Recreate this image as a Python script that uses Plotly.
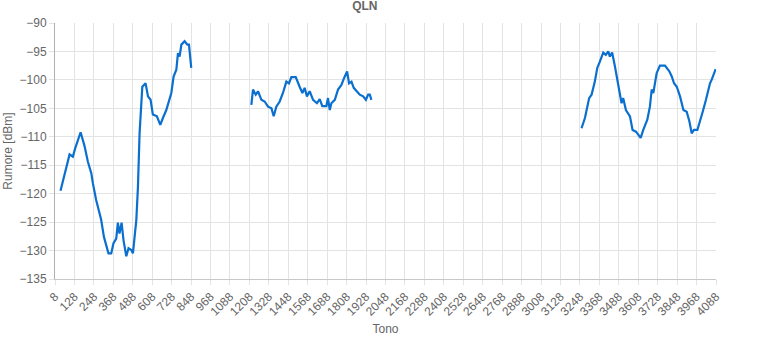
import plotly.graph_objects as go

seg1_tone = [42, 77, 98, 118, 133, 166, 190, 211, 232, 242, 262, 293, 310, 338, 355, 369, 386, 396, 406, 419, 431, 448, 462, 479, 489, 510, 520, 530, 547, 567, 582, 598, 612, 637, 658, 674, 695, 726, 740, 757, 767, 777, 788, 808, 825, 835, 849]
seg1_db = [-119.5, -115.7, -113.1, -113.5, -112, -109.2, -111.6, -114.4, -116.4, -118.2, -121.1, -124.6, -127.6, -130.5, -130.5, -128.7, -127.9, -125.1, -127, -125.1, -128.2, -131, -129.6, -129.9, -130.5, -124.6, -118.8, -109.4, -101.2, -100.6, -102.9, -103.5, -106.1, -106.4, -107.9, -106.7, -105.3, -102.3, -99.4, -98.2, -95.3, -95.9, -93.8, -93.2, -93.8, -93.8, -97.9]

seg2_tone = [1220, 1230, 1247, 1261, 1282, 1302, 1323, 1344, 1358, 1374, 1395, 1415, 1436, 1452, 1467, 1494, 1518, 1535, 1549, 1563, 1580, 1601, 1625, 1642, 1658, 1683, 1693, 1704, 1714, 1735, 1755, 1776, 1792, 1811, 1823, 1838, 1852, 1869, 1889, 1910, 1927, 1941, 1951, 1961]
seg2_db = [-104.4, -101.7, -102.6, -102, -103.5, -103.8, -104.7, -105, -106.4, -104.7, -103.8, -102.3, -100.3, -100.6, -99.5, -99.5, -101.2, -102.3, -101.4, -102.9, -102, -103.5, -104.1, -103.4, -104.6, -104.6, -103.2, -105.3, -104.1, -103.5, -101.7, -100.9, -99.7, -98.5, -100.6, -100.3, -101.4, -102, -102.6, -102.9, -103.5, -102.6, -102.6, -103.5]

seg3_tone = [3258, 3279, 3305, 3320, 3340, 3355, 3371, 3392, 3408, 3423, 3433, 3447, 3464, 3485, 3505, 3515, 3532, 3557, 3573, 3594, 3608, 3623, 3639, 3664, 3680, 3691, 3701, 3722, 3742, 3773, 3800, 3815, 3829, 3846, 3866, 3887, 3907, 3924, 3938, 3952, 3973, 3989, 4006, 4026, 4040, 4051, 4061, 4076, 4086]
seg3_db = [-108.5, -106.7, -103.2, -102.6, -100.3, -97.9, -96.8, -95.2, -95.6, -95, -95.9, -95.2, -97.6, -101.2, -104.1, -103.2, -105.3, -106.4, -108.8, -109.1, -109.7, -110.2, -108.8, -107, -104.7, -101.7, -102.3, -98.8, -97.5, -97.5, -98.5, -99.4, -100.6, -101.2, -102.9, -105.3, -105.6, -107.3, -109.4, -108.8, -108.8, -107, -105.6, -103.5, -101.7, -100.6, -100, -98.7, -98.1]

x_ticks = list(range(8, 4089, 120))
y_ticks = list(range(-135, -89, 5))

x = seg1_tone + [None] + seg2_tone + [None] + seg3_tone
y = seg1_db + [None] + seg2_db + [None] + seg3_db

font = "Liberation Sans, Arial, sans-serif"
fig = go.Figure()
fig.add_trace(go.Scatter(x=x, y=y, mode="lines", connectgaps=False,
                         line=dict(color="#0a6fce", width=2.2), hoverinfo="skip"))

fig.update_layout(
    width=757, height=341,
    margin=dict(l=55, r=41, t=23, b=62),
    paper_bgcolor="white", plot_bgcolor="white",
    showlegend=False,
    font=dict(family=font, size=12, color="#666666"),
    title=dict(text="<b>QLN</b>", x=0.482, xanchor="center", y=0.995, yanchor="top",
               font=dict(family=font, size=12, color="#666666")),
    xaxis=dict(range=[8, 4088], tickmode="array", tickvals=x_ticks,
               ticktext=[str(v) for v in x_ticks], tickangle=-45,
               showgrid=True, gridcolor="#e3e3e3", gridwidth=1,
               ticks="outside", ticklen=5, tickcolor="#e3e3e3",
               showline=True, linecolor="#c8c8c8", zeroline=False,
               automargin=False,
               tickfont=dict(size=12, color="#666666"),
               title=dict(text="Tono", font=dict(size=12, color="#666666"), standoff=6)),
    yaxis=dict(range=[-135, -90], tickmode="array", tickvals=y_ticks,
               showgrid=True, gridcolor="#e3e3e3", gridwidth=1,
               ticks="outside", ticklen=5, tickcolor="#e3e3e3",
               showline=True, linecolor="#b0b0b0", zeroline=False,
               automargin=False,
               tickfont=dict(size=12, color="#666666"),
               title=dict(text="Rumore [dBm]", font=dict(size=12, color="#666666"), standoff=4)),
)

fig.write_html("out.html")
